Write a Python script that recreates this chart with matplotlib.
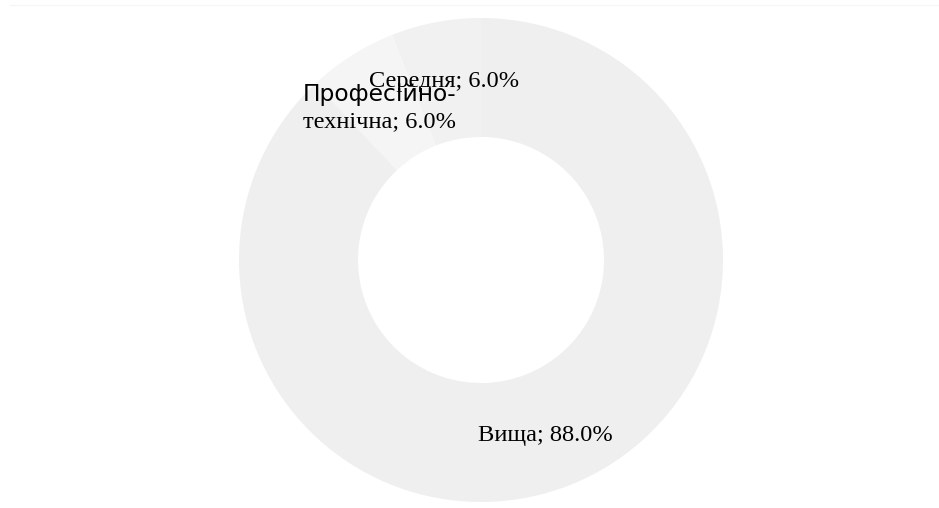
import matplotlib.pyplot as plt

# частки за рівнем освіти
categories = ["Середня", "Професійно-технічна", "Вища"]
shares = [6.0, 6.0, 88.0]
colors = ["#f1f1f1", "#f5f5f5", "#efefef"]

fig = plt.figure(figsize=(9.39, 5.08), dpi=100)
ax = fig.add_axes([0, 0, 1, 1])
ax.set_xlim(0, 939)
ax.set_ylim(508, 0)
ax.set_aspect("equal")
ax.axis("off")

# тонка лінія зверху
ax.plot([10, 939], [5, 5], color="#f6f6f6", lw=1)

# у перевернутій осі y напрямок обходу змінюється
wedges, _ = ax.pie(shares, colors=colors, startangle=-90, counterclock=False,
                   center=(481, 260), radius=242,
                   wedgeprops=dict(width=119, linewidth=0))
ax.set_xlim(0, 939)
ax.set_ylim(508, 0)

labels = [f"{c}; {v:.1f}%" for c, v in zip(categories, shares)]
serif = "Liberation Serif"

ax.text(444, 82, labels[0], family=serif, fontsize=17.6, ha="center", va="center")
first, second = labels[1].split("-", 1)
ax.text(303, 94, first + "-", family="DejaVu Sans", fontsize=16.8, ha="left", va="center")
ax.text(303, 122, second, family=serif, fontsize=17.6, ha="left", va="center")
ax.text(545, 435, labels[2], family=serif, fontsize=17.6, ha="center", va="center")

fig.savefig("out.png", dpi=100, facecolor="white")
